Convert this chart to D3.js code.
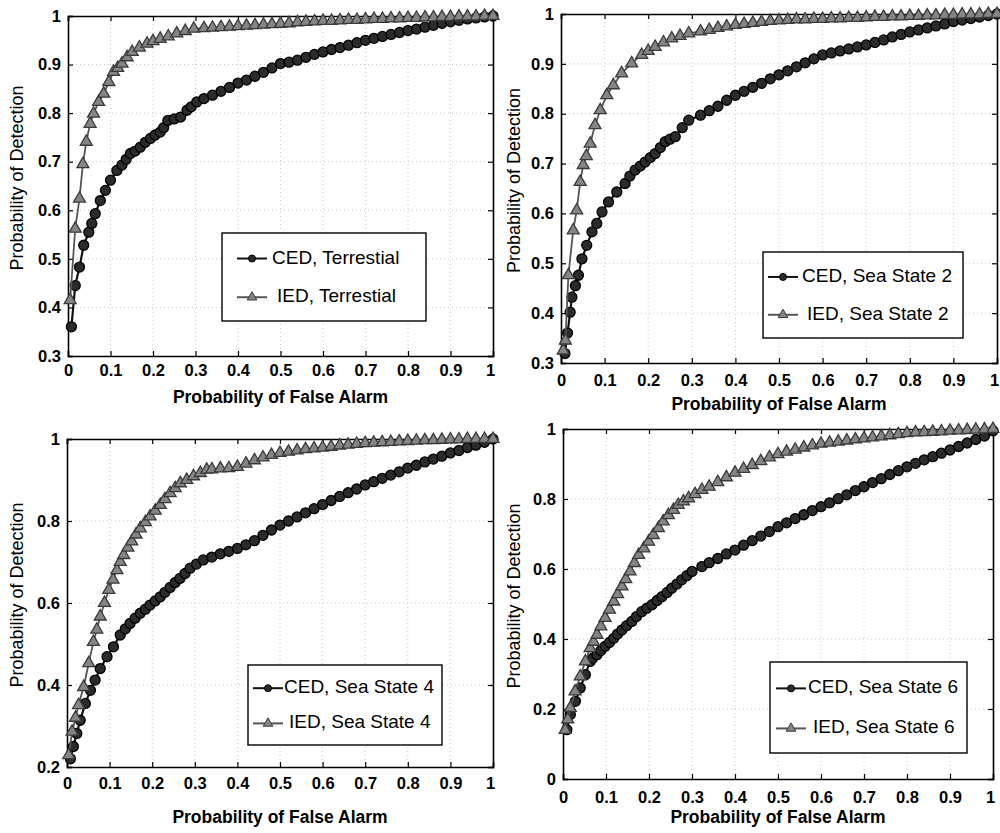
<!DOCTYPE html>
<html>
<head>
<meta charset="utf-8">
<script src="https://cdn.jsdelivr.net/npm/d3@7"></script>
<style>
  body { margin: 0; background: #fff; }
  svg { display: block; font-family: "Liberation Sans", Arial, sans-serif; }
</style>
</head>
<body>
<svg id="chart" width="1000" height="833"></svg>
<script>
// tick values
const xTicks = [0, 0.1, 0.2, 0.3, 0.4, 0.5, 0.6, 0.7, 0.8, 0.9, 1];
const yTicksTop = [0.3, 0.4, 0.5, 0.6, 0.7, 0.8, 0.9, 1];
const yTicksSea4 = [0.2, 0.4, 0.6, 0.8, 1];
const yTicksSea6 = [0, 0.2, 0.4, 0.6, 0.8, 1];

const scenarios = ["Terrestial", "Sea State 2", "Sea State 4", "Sea State 6"];
const detectors = ["CED", "IED"];

// [Pfa, Pd] pairs
const cedTerrestial = [[0.008,0.36],[0.017,0.445],[0.027,0.483],[0.037,0.528],[0.049,0.555],[0.056,0.573],[0.064,0.593],[0.076,0.62],[0.088,0.641],[0.1,0.662],[0.115,0.682],[0.127,0.693],[0.137,0.705],[0.147,0.717],[0.158,0.722],[0.17,0.73],[0.182,0.74],[0.194,0.748],[0.205,0.755],[0.217,0.761],[0.225,0.77],[0.235,0.785],[0.25,0.788],[0.265,0.792],[0.28,0.806],[0.29,0.813],[0.303,0.823],[0.32,0.83],[0.34,0.837],[0.36,0.845],[0.38,0.853],[0.4,0.862],[0.42,0.868],[0.44,0.876],[0.46,0.884],[0.48,0.893],[0.5,0.902],[0.52,0.905],[0.54,0.909],[0.56,0.915],[0.58,0.921],[0.6,0.926],[0.62,0.931],[0.64,0.935],[0.66,0.94],[0.68,0.945],[0.7,0.95],[0.72,0.954],[0.74,0.958],[0.76,0.962],[0.78,0.966],[0.8,0.97],[0.82,0.973],[0.84,0.977],[0.86,0.981],[0.88,0.985],[0.9,0.988],[0.92,0.991],[0.94,0.994],[0.96,0.996],[0.98,0.998],[1,1]];
const iedTerrestial = [[0.005,0.415],[0.017,0.562],[0.027,0.624],[0.035,0.695],[0.043,0.741],[0.052,0.778],[0.06,0.799],[0.072,0.823],[0.084,0.84],[0.096,0.864],[0.107,0.885],[0.117,0.893],[0.127,0.902],[0.139,0.915],[0.151,0.926],[0.168,0.935],[0.186,0.943],[0.2,0.948],[0.217,0.953],[0.236,0.958],[0.256,0.964],[0.276,0.969],[0.296,0.974],[0.32,0.975],[0.34,0.976],[0.36,0.977],[0.38,0.978],[0.4,0.979],[0.42,0.98],[0.44,0.981],[0.46,0.982],[0.48,0.983],[0.5,0.984],[0.52,0.985],[0.54,0.987],[0.56,0.988],[0.58,0.989],[0.6,0.99],[0.62,0.99],[0.64,0.991],[0.66,0.992],[0.68,0.992],[0.7,0.993],[0.72,0.994],[0.74,0.994],[0.76,0.995],[0.78,0.995],[0.8,0.996],[0.82,0.996],[0.84,0.997],[0.86,0.997],[0.88,0.998],[0.9,0.998],[0.92,0.999],[0.94,0.999],[0.96,0.999],[0.98,1],[1,1]];

const cedSea2 = [[0.009,0.319],[0.015,0.36],[0.021,0.402],[0.025,0.432],[0.033,0.455],[0.04,0.476],[0.048,0.509],[0.059,0.536],[0.071,0.563],[0.082,0.58],[0.094,0.603],[0.109,0.623],[0.128,0.643],[0.147,0.66],[0.158,0.675],[0.17,0.687],[0.182,0.695],[0.193,0.703],[0.205,0.712],[0.216,0.72],[0.228,0.732],[0.239,0.744],[0.25,0.749],[0.262,0.754],[0.278,0.772],[0.293,0.787],[0.32,0.797],[0.34,0.806],[0.36,0.815],[0.38,0.827],[0.4,0.837],[0.42,0.845],[0.44,0.853],[0.46,0.861],[0.48,0.87],[0.5,0.878],[0.52,0.886],[0.54,0.894],[0.56,0.902],[0.58,0.91],[0.6,0.918],[0.62,0.922],[0.64,0.926],[0.66,0.93],[0.68,0.934],[0.7,0.938],[0.72,0.943],[0.74,0.948],[0.76,0.954],[0.78,0.959],[0.8,0.964],[0.82,0.968],[0.84,0.972],[0.86,0.976],[0.88,0.98],[0.9,0.985],[0.92,0.988],[0.94,0.991],[0.96,0.994],[0.98,0.997],[1,1]];
const iedSea2 = [[0.005,0.325],[0.01,0.345],[0.017,0.476],[0.028,0.566],[0.036,0.606],[0.044,0.663],[0.051,0.697],[0.058,0.715],[0.067,0.74],[0.078,0.777],[0.09,0.807],[0.105,0.837],[0.12,0.857],[0.139,0.881],[0.162,0.901],[0.185,0.918],[0.2,0.926],[0.216,0.934],[0.235,0.943],[0.254,0.951],[0.273,0.956],[0.293,0.961],[0.32,0.965],[0.34,0.968],[0.36,0.972],[0.38,0.975],[0.4,0.978],[0.42,0.98],[0.44,0.982],[0.46,0.984],[0.48,0.986],[0.5,0.987],[0.52,0.988],[0.54,0.989],[0.56,0.989],[0.58,0.99],[0.6,0.99],[0.62,0.991],[0.64,0.991],[0.66,0.992],[0.68,0.992],[0.7,0.993],[0.72,0.994],[0.74,0.994],[0.76,0.995],[0.78,0.995],[0.8,0.996],[0.82,0.996],[0.84,0.997],[0.86,0.997],[0.88,0.998],[0.9,0.998],[0.92,0.999],[0.94,0.999],[0.96,0.999],[0.98,1],[1,1]];

const cedSea4 = [[0.008,0.22],[0.015,0.25],[0.023,0.282],[0.031,0.314],[0.043,0.355],[0.055,0.387],[0.066,0.412],[0.078,0.44],[0.094,0.469],[0.109,0.493],[0.125,0.522],[0.137,0.537],[0.148,0.55],[0.16,0.563],[0.172,0.575],[0.184,0.585],[0.195,0.595],[0.207,0.605],[0.219,0.615],[0.23,0.626],[0.242,0.638],[0.254,0.65],[0.265,0.66],[0.277,0.672],[0.289,0.685],[0.304,0.695],[0.32,0.705],[0.34,0.712],[0.36,0.72],[0.38,0.726],[0.4,0.733],[0.42,0.742],[0.44,0.752],[0.46,0.765],[0.48,0.778],[0.5,0.79],[0.52,0.8],[0.54,0.81],[0.56,0.82],[0.58,0.83],[0.6,0.84],[0.62,0.85],[0.64,0.86],[0.66,0.869],[0.68,0.878],[0.7,0.888],[0.72,0.896],[0.74,0.904],[0.76,0.912],[0.78,0.92],[0.8,0.929],[0.82,0.936],[0.84,0.944],[0.86,0.951],[0.88,0.958],[0.9,0.966],[0.92,0.972],[0.94,0.979],[0.96,0.985],[0.98,0.992],[1,1]];
const iedSea4 = [[0.004,0.229],[0.012,0.286],[0.02,0.32],[0.027,0.351],[0.039,0.395],[0.051,0.453],[0.062,0.505],[0.07,0.535],[0.078,0.567],[0.088,0.6],[0.098,0.632],[0.108,0.657],[0.117,0.68],[0.125,0.7],[0.133,0.717],[0.143,0.735],[0.152,0.75],[0.162,0.767],[0.172,0.782],[0.184,0.797],[0.195,0.811],[0.207,0.825],[0.219,0.839],[0.23,0.853],[0.242,0.868],[0.254,0.88],[0.266,0.892],[0.281,0.9],[0.297,0.909],[0.313,0.917],[0.328,0.925],[0.34,0.926],[0.36,0.928],[0.38,0.929],[0.4,0.932],[0.42,0.94],[0.44,0.948],[0.46,0.955],[0.48,0.961],[0.5,0.966],[0.52,0.969],[0.54,0.972],[0.56,0.975],[0.58,0.977],[0.6,0.979],[0.62,0.981],[0.64,0.984],[0.66,0.986],[0.68,0.988],[0.7,0.99],[0.72,0.991],[0.74,0.992],[0.76,0.993],[0.78,0.994],[0.8,0.995],[0.82,0.996],[0.84,0.997],[0.86,0.997],[0.88,0.998],[0.9,0.999],[0.92,0.999],[0.94,1],[0.96,1],[0.98,1],[1,1]];

const cedSea6 = [[0.009,0.141],[0.017,0.184],[0.029,0.222],[0.04,0.26],[0.052,0.298],[0.063,0.336],[0.069,0.345],[0.079,0.355],[0.088,0.367],[0.098,0.379],[0.108,0.39],[0.118,0.402],[0.127,0.414],[0.137,0.426],[0.148,0.438],[0.16,0.45],[0.171,0.464],[0.183,0.478],[0.195,0.488],[0.207,0.498],[0.219,0.51],[0.23,0.521],[0.242,0.533],[0.253,0.545],[0.265,0.557],[0.276,0.569],[0.288,0.581],[0.3,0.593],[0.323,0.607],[0.34,0.618],[0.36,0.63],[0.38,0.643],[0.4,0.654],[0.42,0.668],[0.44,0.681],[0.46,0.694],[0.48,0.707],[0.5,0.721],[0.52,0.732],[0.54,0.744],[0.56,0.755],[0.58,0.767],[0.6,0.778],[0.62,0.789],[0.64,0.801],[0.66,0.812],[0.68,0.824],[0.7,0.835],[0.72,0.847],[0.74,0.858],[0.76,0.87],[0.78,0.881],[0.8,0.892],[0.82,0.902],[0.84,0.912],[0.86,0.921],[0.88,0.931],[0.9,0.94],[0.92,0.95],[0.94,0.96],[0.96,0.97],[0.98,0.98],[1,0.995]];
const iedSea6 = [[0.005,0.14],[0.011,0.17],[0.017,0.203],[0.028,0.25],[0.04,0.293],[0.052,0.336],[0.063,0.374],[0.071,0.392],[0.079,0.412],[0.088,0.436],[0.098,0.46],[0.108,0.484],[0.118,0.507],[0.127,0.528],[0.137,0.55],[0.146,0.571],[0.156,0.593],[0.166,0.617],[0.176,0.64],[0.188,0.659],[0.199,0.678],[0.21,0.697],[0.222,0.717],[0.233,0.736],[0.245,0.754],[0.257,0.769],[0.268,0.783],[0.28,0.793],[0.292,0.802],[0.307,0.814],[0.323,0.826],[0.34,0.835],[0.36,0.848],[0.38,0.862],[0.4,0.875],[0.42,0.886],[0.44,0.897],[0.46,0.908],[0.48,0.919],[0.5,0.928],[0.52,0.935],[0.54,0.941],[0.56,0.947],[0.58,0.953],[0.6,0.958],[0.62,0.961],[0.64,0.964],[0.66,0.967],[0.68,0.97],[0.7,0.973],[0.72,0.976],[0.74,0.979],[0.76,0.982],[0.78,0.985],[0.8,0.988],[0.82,0.99],[0.84,0.991],[0.86,0.992],[0.88,0.993],[0.9,0.995],[0.92,0.996],[0.94,0.997],[0.96,0.998],[0.98,0.999],[1,1]];

// panel layout (pixels)
const panels = [
  { name: scenarios[0], ced: cedTerrestial, ied: iedTerrestial, yDomain: [0.3, 1], yTicks: yTicksTop,
    left: 68, right: 493, top: 16, bottom: 356, xTickY: 370, xLabelY: 398, yLabelX: 18,
    legend: { x: 222, y: 233, w: 204, h: 88, lx: 15, tx: 50 } },
  { name: scenarios[1], ced: cedSea2, ied: iedSea2, yDomain: [0.3, 1], yTicks: yTicksTop,
    left: 561, right: 997, top: 14, bottom: 363, xTickY: 380, xLabelY: 405, yLabelX: 515,
    legend: { x: 763, y: 252, w: 200, h: 86, lx: 5, tx: 39 } },
  { name: scenarios[2], ced: cedSea4, ied: iedSea4, yDomain: [0.2, 1], yTicks: yTicksSea4,
    left: 67, right: 493, top: 439, bottom: 767, xTickY: 783, xLabelY: 818, yLabelX: 18,
    legend: { x: 248, y: 665, w: 194, h: 80, lx: 5, tx: 36 } },
  { name: scenarios[3], ced: cedSea6, ied: iedSea6, yDomain: [0, 1], yTicks: yTicksSea6,
    left: 563, right: 993, top: 429, bottom: 779, xTickY: 797, xLabelY: 818, yLabelX: 515,
    legend: { x: 770, y: 662, w: 197, h: 91, lx: 6, tx: 38 } }
];

const svg = d3.select("#chart");
const fmt = d3.format("~g");
const tri = d3.symbol().type(d3.symbolTriangle).size(62);
const triSmall = d3.symbol().type(d3.symbolTriangle).size(40);

panels.forEach(function(p) {
  const x = d3.scaleLinear().domain([0, 1]).range([p.left, p.right]);
  const y = d3.scaleLinear().domain(p.yDomain).range([p.bottom, p.top]);
  const g = svg.append("g");

  // dotted grid
  g.append("g").selectAll("line").data(xTicks.slice(1, -1)).enter().append("line")
      .attr("x1", d => x(d)).attr("x2", d => x(d))
      .attr("y1", p.top).attr("y2", p.bottom)
      .attr("stroke", "#c8c8c8").attr("stroke-dasharray", "1,3");
  g.append("g").selectAll("line").data(p.yTicks.slice(1, -1)).enter().append("line")
      .attr("x1", p.left).attr("x2", p.right)
      .attr("y1", d => y(d)).attr("y2", d => y(d))
      .attr("stroke", "#c8c8c8").attr("stroke-dasharray", "1,3");

  // axes, ticks pointing inward on all four sides
  const bottomAxis = g.append("g")
      .attr("transform", "translate(0," + p.bottom + ")")
      .call(d3.axisBottom(x).tickValues(xTicks).tickFormat(fmt).tickSize(-5));
  const leftAxis = g.append("g")
      .attr("transform", "translate(" + p.left + ",0)")
      .call(d3.axisLeft(y).tickValues(p.yTicks).tickFormat(fmt).tickSize(-5).tickPadding(7));
  g.append("g").attr("transform", "translate(0," + p.top + ")")
      .call(d3.axisTop(x).tickValues(xTicks).tickFormat("").tickSize(-5));
  g.append("g").attr("transform", "translate(" + p.right + ",0)")
      .call(d3.axisRight(y).tickValues(p.yTicks).tickFormat("").tickSize(-5));

  g.selectAll(".domain").attr("stroke", "#000").attr("stroke-width", 1.6);
  g.selectAll(".tick line").attr("stroke", "#000").attr("stroke-width", 1.2);
  [bottomAxis, leftAxis].forEach(a => a.selectAll("text")
      .attr("font-size", 16.5).attr("font-weight", "bold").attr("fill", "#000")
      .attr("font-family", "Liberation Sans, Arial, sans-serif"));
  bottomAxis.selectAll("text").attr("dy", "0.35em").attr("y", p.xTickY - p.bottom)
      .attr("dx", d => d === 1 ? -3 : 0);

  // axis titles
  g.append("text")
      .attr("x", (p.left + p.right) / 2).attr("y", p.xLabelY)
      .attr("text-anchor", "middle").attr("dominant-baseline", "middle")
      .attr("font-size", 17.5).attr("font-weight", "bold")
      .text("Probability of False Alarm");
  g.append("text")
      .attr("transform", "translate(" + p.yLabelX + "," + ((p.top + p.bottom) / 2 - 8) + ") rotate(-90)")
      .attr("text-anchor", "middle").attr("dominant-baseline", "middle")
      .attr("font-size", 18)
      .text("Probability of Detection");

  const line = d3.line().x(d => x(d[0])).y(d => y(d[1]));

  // CED: dark line with circles
  g.append("path").datum(p.ced).attr("d", line)
      .attr("fill", "none").attr("stroke", "#111").attr("stroke-width", 2.2);
  g.append("g").selectAll("circle").data(p.ced).enter().append("circle")
      .attr("cx", d => x(d[0])).attr("cy", d => y(d[1])).attr("r", 5)
      .attr("fill", "#2b2b2b").attr("stroke", "#000").attr("stroke-width", 1.3);

  // IED: grey line with triangles
  g.append("path").datum(p.ied).attr("d", line)
      .attr("fill", "none").attr("stroke", "#555").attr("stroke-width", 1.8);
  g.append("g").selectAll("path").data(p.ied).enter().append("path")
      .attr("d", tri)
      .attr("transform", d => "translate(" + x(d[0]) + "," + y(d[1]) + ")")
      .attr("fill", "#858585").attr("stroke", "#3a3a3a").attr("stroke-width", 1.3);

  // legend
  const L = p.legend;
  const lg = g.append("g").attr("transform", "translate(" + L.x + "," + L.y + ")");
  lg.append("rect").attr("width", L.w).attr("height", L.h)
      .attr("fill", "#fff").attr("stroke", "#000").attr("stroke-width", 1.4);
  detectors.forEach(function(det, i) {
    const cy = L.h * (i === 0 ? 0.29 : 0.73);
    const mx = L.lx + 15;
    lg.append("line").attr("x1", L.lx).attr("x2", L.lx + 30).attr("y1", cy).attr("y2", cy)
        .attr("stroke", i === 0 ? "#111" : "#555").attr("stroke-width", 2);
    if (i === 0) {
      lg.append("circle").attr("cx", mx).attr("cy", cy).attr("r", 3.5)
          .attr("fill", "#2b2b2b").attr("stroke", "#000");
    } else {
      lg.append("path").attr("d", triSmall).attr("transform", "translate(" + mx + "," + cy + ")")
          .attr("fill", "#858585").attr("stroke", "#3a3a3a");
    }
    lg.append("text").attr("x", i === 0 ? L.tx : L.tx + 5).attr("y", cy)
        .attr("dominant-baseline", "middle").attr("font-size", 19)
        .text(det + ", " + p.name);
  });
});
</script>
</body>
</html>
